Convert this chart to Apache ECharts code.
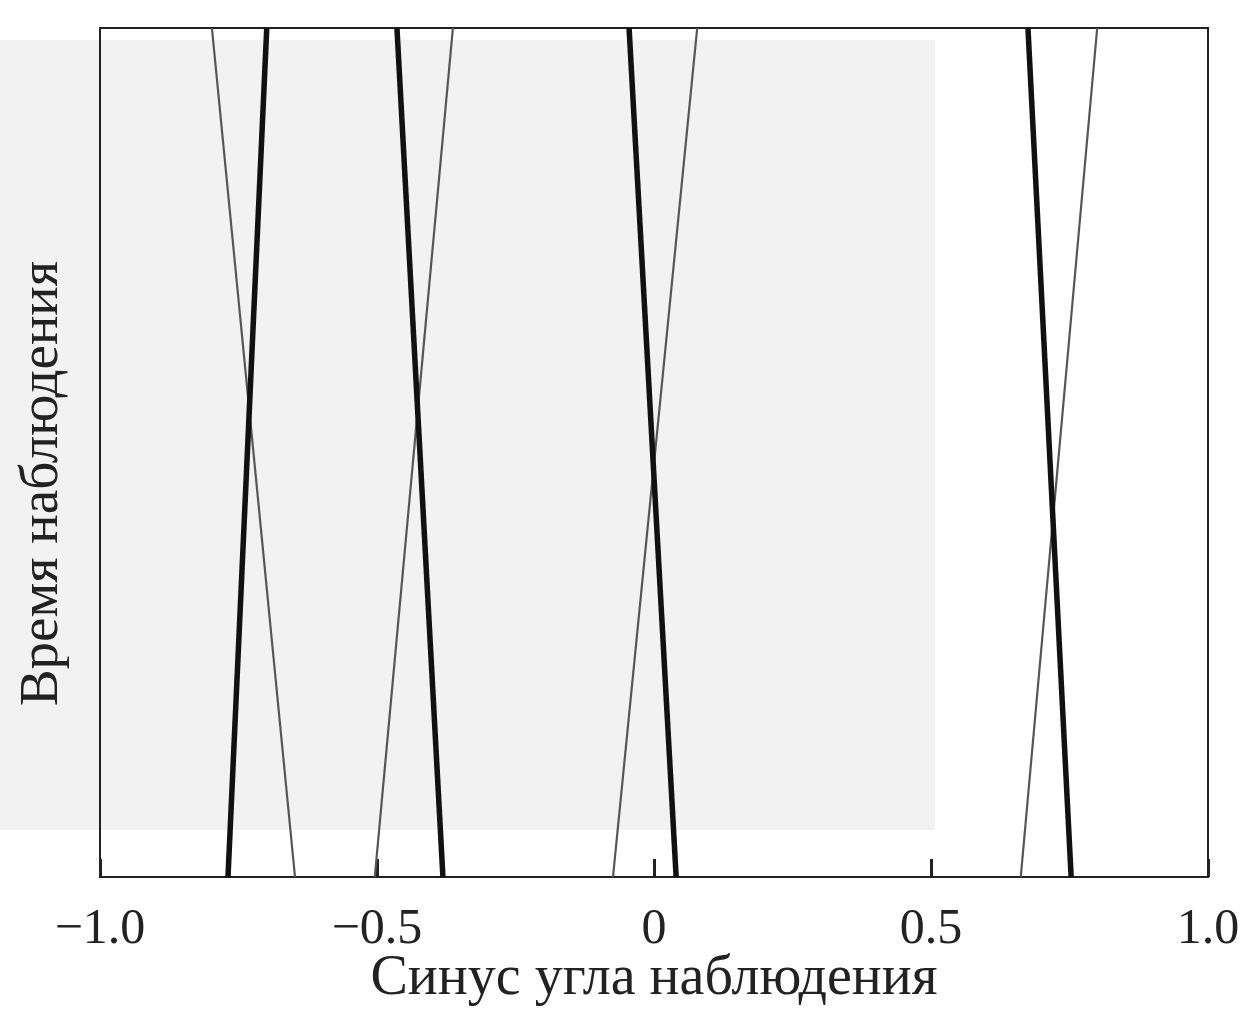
<!DOCTYPE html>
<html><head><meta charset="utf-8">
<script src="https://cdn.jsdelivr.net/npm/echarts@6/dist/echarts.min.js"></script>
<style>html,body{margin:0;padding:0;background:#fff}#c{width:1241px;height:1010px}</style>
</head><body><div id="c"></div>
<script>
// time range (y) at bottom and top of the plot
const timeEnds = [0, 1];
// thick (black) lines: x (sine) at bottom, at top
const thick1 = [-0.769, -0.699];
const thick2 = [-0.381, -0.464];
const thick3 = [0.040, -0.045];
const thick4 = [0.753, 0.675];
// thin (gray) lines: x at bottom, at top
const thin1 = [-0.648, -0.798];
const thin2 = [-0.504, -0.363];
const thin3 = [-0.074, 0.078];
const thin4 = [0.662, 0.800];
const tickValues = [-1, -0.5, 0, 0.5, 1];
const tickLabels = ['\u22121.0', '\u22120.5', '0', '0.5', '1.0'];

function pts(xs){ return xs.map((x,i)=>[x, timeEnds[i]]); }
function mk(xs, thick){
  return {type:'line', data:pts(xs), symbol:'none', silent:true,
    lineStyle:{color: thick ? '#111' : '#555', width: thick ? 5.5 : 2.2}, z: thick?3:2};
}
const chart = echarts.init(document.getElementById('c'), null, {renderer:'canvas'});
chart.setOption({
  animation:false,
  backgroundColor:'#fff',
  graphic:[{type:'rect', z:-10, shape:{x:0,y:40,width:935,height:790}, style:{fill:'#f2f2f2'}}],
  grid:{left:100, right:33, top:28, bottom:133, show:true, borderColor:'#222', borderWidth:2,
        backgroundColor:'transparent', outerBoundsMode:'none', containLabel:false},
  xAxis:{type:'value', min:-1, max:1, interval:0.5,
    name:'Синус угла наблюдения', nameLocation:'middle', nameGap:74, nameMoveOverlap:false,
    nameTextStyle:{fontFamily:'Liberation Serif', fontSize:56, color:'#222'},
    axisLine:{show:true, onZero:false, lineStyle:{color:'#222', width:2}},
    axisTick:{show:true, inside:true, length:18, lineStyle:{color:'#222', width:3}},
    splitLine:{show:false},
    axisLabel:{margin:28, fontFamily:'Liberation Serif', fontSize:50, color:'#222',
      formatter:v=>{const i=tickValues.findIndex(t=>Math.abs(t-v)<1e-9); return i>=0?tickLabels[i]:'';}}
  },
  yAxis:{type:'value', min:0, max:1,
    name:'Время наблюдения', nameLocation:'middle', nameGap:30, nameRotate:90,
    nameTextStyle:{fontFamily:'Liberation Serif', fontSize:55, color:'#222', padding:[0,62,0,0]},
    axisLine:{show:true, onZero:false, lineStyle:{color:'#222', width:2}},
    axisTick:{show:false}, axisLabel:{show:false}, splitLine:{show:false}
  },
  series:[mk(thin1,false), mk(thin2,false), mk(thin3,false), mk(thin4,false),
          mk(thick1,true), mk(thick2,true), mk(thick3,true), mk(thick4,true)]
});
</script></body></html>
